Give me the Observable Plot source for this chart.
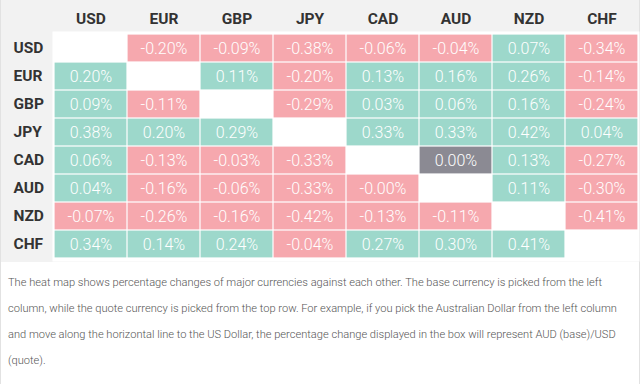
<!DOCTYPE html>
<html>
<head>
<meta charset="utf-8">
<script src="https://cdn.jsdelivr.net/npm/d3@7"></script>
<script src="https://cdn.jsdelivr.net/npm/@observablehq/plot@0.6"></script>
<style>
  html, body { margin: 0; padding: 0; background: #fff; }
  #wrap { width: 638px; border-left: 1px solid #e2e2e2; border-right: 1px solid #e2e2e2; border-bottom: 1px solid #e2e2e2; background:#fff; }
  #chart svg { display: block; }
  #caption { font-family: Roboto, sans-serif; font-weight: 300; font-size: 11.1px; color: #555; line-height: 26px; padding: 8px 0 12px 7px; white-space: nowrap; }
  #caption span { display: block; }
</style>
</head>
<body>
<div id="wrap">
  <div id="chart"></div>
  <div id="caption"><span>The heat map shows percentage changes of major currencies against each other. The base currency is picked from the left</span><span>column, while the quote currency is picked from the top row. For example, if you pick the Australian Dollar from the left column</span><span>and move along the horizontal line to the US Dollar, the percentage change displayed in the box will represent AUD (base)/USD</span><span>(quote).</span></div>
</div>
<script>
const currencies = ["USD", "EUR", "GBP", "JPY", "CAD", "AUD", "NZD", "CHF"];
// Rows = base currency, columns = quote currency (percent change)
const usd = [null, -0.20, -0.09, -0.38, -0.06, -0.04, 0.07, -0.34];
const eur = [0.20, null, 0.11, -0.20, 0.13, 0.16, 0.26, -0.14];
const gbp = [0.09, -0.11, null, -0.29, 0.03, 0.06, 0.16, -0.24];
const jpy = [0.38, 0.20, 0.29, null, 0.33, 0.33, 0.42, 0.04];
const cad = [0.06, -0.13, -0.03, -0.33, null, 0.00, 0.13, -0.27];
const aud = [0.04, -0.16, -0.06, -0.33, -0, null, 0.11, -0.30];
const nzd = [-0.07, -0.26, -0.16, -0.42, -0.13, -0.11, null, -0.41];
const chf = [0.34, 0.14, 0.24, -0.04, 0.27, 0.30, 0.41, null];
const rowsData = [usd, eur, gbp, jpy, cad, aud, nzd, chf];

const cells = [];
rowsData.forEach((row, i) => row.forEach((v, j) => {
  if (v !== null) {
    const neg = v < 0 || Object.is(v, -0);
    cells.push({
      base: currencies[i], quote: currencies[j], value: v,
      trend: v > 0 ? "up" : neg ? "down" : "flat",
      label: (neg ? "-" : "") + Math.abs(v).toFixed(2) + "%"
    });
  }
}));

const chart = Plot.plot({
  width: 638,
  height: 262,
  marginLeft: 51,
  marginTop: 31,
  marginRight: 0,
  marginBottom: 1,
  style: { fontFamily: "Roboto, sans-serif", background: "#f2f2f2", overflow: "visible" },
  x: { type: "band", domain: currencies, padding: 0, label: null },
  y: { type: "band", domain: currencies, padding: 0, label: null },
  color: { domain: ["up", "down", "flat"], range: ["#9dd8cb", "#f6a8ae", "#8b8a93"] },
  marks: [
    Plot.frame({ fill: "white", stroke: null }),
    Plot.cell(cells, { x: "quote", y: "base", fill: "trend", inset: 0.6 }),
    Plot.text(cells, { x: "quote", y: "base", text: "label", fill: "white", fontSize: 16, fontWeight: 300 }),
    Plot.axisX({ anchor: "top", tickSize: 0, tickPadding: 8, fontSize: 15.5, fontWeight: "bold", fill: "#333", label: null }),
    Plot.axisY({ anchor: "left", tickSize: 0, tickPadding: 39, textAnchor: "start", fontSize: 15.5, fontWeight: "bold", fill: "#333", label: null })
  ]
});
document.getElementById("chart").appendChild(chart);
</script>
</body>
</html>
